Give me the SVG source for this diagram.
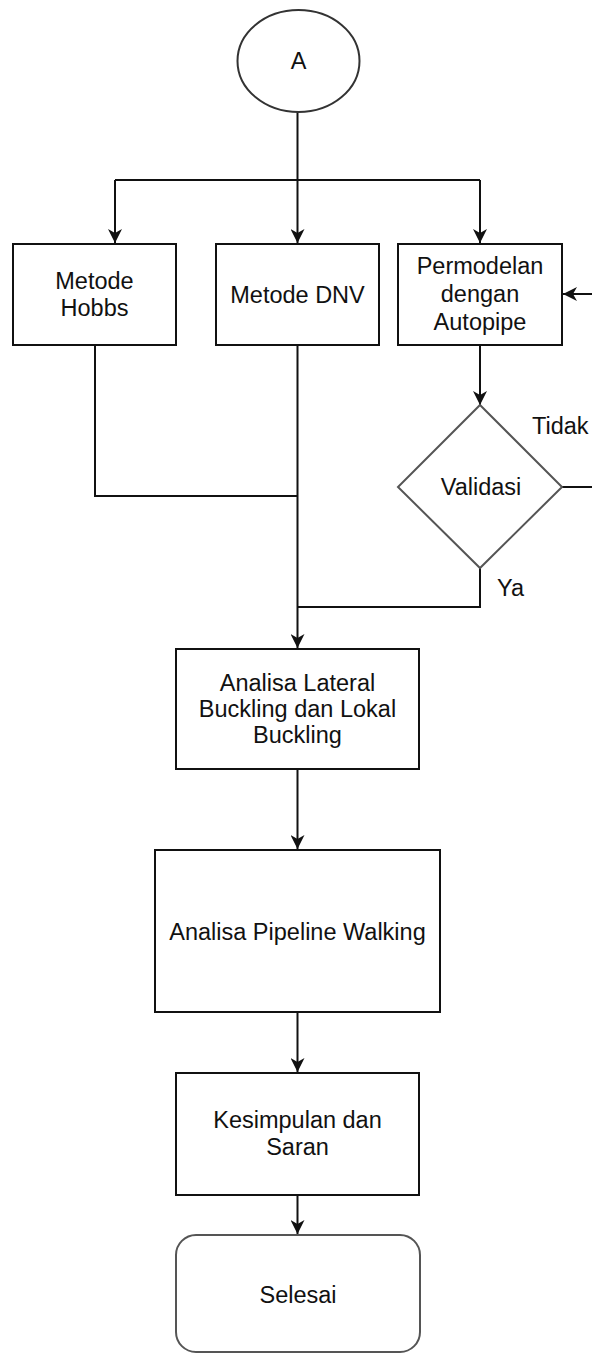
<svg xmlns="http://www.w3.org/2000/svg" width="592" height="1353" viewBox="0 0 592 1353">
<style>
.box{fill:#fff;stroke:#111;stroke-width:2}
.soft{fill:#fff;stroke:#555;stroke-width:2}
.ln{fill:none;stroke:#111;stroke-width:2}
.t{font-family:"Liberation Sans",Arial,sans-serif;font-size:23.5px;fill:#111;text-anchor:middle}
.tl{font-family:"Liberation Sans",Arial,sans-serif;font-size:23.5px;fill:#111;text-anchor:start}
</style>
<defs>
<marker id="arr" viewBox="0 0 14 14" refX="14" refY="7" markerWidth="14" markerHeight="14" markerUnits="userSpaceOnUse" orient="auto">
<path d="M0,0 L14,7 L0,14 L4,7 z" fill="#111"/>
</marker>
</defs>
<g id="connectors">
<path class="ln" d="M297.5,112 L297.5,243" marker-end="url(#arr)"/>
<path class="ln" d="M115,180 L480,180"/>
<path class="ln" d="M115,180 L115,243" marker-end="url(#arr)"/>
<path class="ln" d="M480,180 L480,243" marker-end="url(#arr)"/>
<path class="ln" d="M95,345 L95,496 L297.5,496"/>
<path class="ln" d="M297.5,345 L297.5,648" marker-end="url(#arr)"/>
<path class="ln" d="M480,345 L480,405" marker-end="url(#arr)"/>
<path class="ln" d="M562,487 L592,487"/>
<path class="ln" d="M592,294 L563,294" marker-end="url(#arr)"/>
<path class="ln" d="M480,568 L480,607 L297.5,607"/>
<path class="ln" d="M297.5,769 L297.5,849" marker-end="url(#arr)"/>
<path class="ln" d="M297.5,1012 L297.5,1072" marker-end="url(#arr)"/>
<path class="ln" d="M297.5,1195 L297.5,1234" marker-end="url(#arr)"/>
</g>
<g id="nodeA">
<ellipse cx="298.5" cy="61" rx="61" ry="51" fill="#fff" stroke="#333" stroke-width="2"/>
<text class="t" x="298.5" y="69">A</text>
</g>
<g id="hobbs">
<rect class="box" x="13" y="244" width="163" height="101"/>
<text class="t" x="94.5" y="289">Metode</text>
<text class="t" x="94.5" y="316">Hobbs</text>
</g>
<g id="dnv">
<rect class="box" x="216" y="244" width="163" height="101"/>
<text class="t" x="297.5" y="303">Metode DNV</text>
</g>
<g id="permodelan">
<rect class="box" x="398" y="244" width="164" height="101"/>
<text class="t" x="480" y="274">Permodelan</text>
<text class="t" x="480" y="302">dengan</text>
<text class="t" x="480" y="330">Autopipe</text>
</g>
<g id="validasi">
<path class="soft" d="M480,405 L562,487 L480,568 L398,487 z"/>
<text class="t" x="481" y="495">Validasi</text>
</g>
<g id="label-tidak">
<text class="tl" x="532" y="434">Tidak</text>
</g>
<g id="label-ya">
<text class="tl" x="497" y="596">Ya</text>
</g>
<g id="analisa-lateral">
<rect class="box" x="176" y="649" width="243" height="120"/>
<text class="t" x="297.5" y="691">Analisa Lateral</text>
<text class="t" x="297.5" y="717">Buckling dan Lokal</text>
<text class="t" x="297.5" y="743">Buckling</text>
</g>
<g id="analisa-walking">
<rect class="box" x="155" y="850" width="285" height="162"/>
<text class="t" x="297.5" y="940">Analisa Pipeline Walking</text>
</g>
<g id="kesimpulan">
<rect class="box" x="176" y="1073" width="243" height="122"/>
<text class="t" x="297.5" y="1128">Kesimpulan dan</text>
<text class="t" x="297.5" y="1155">Saran</text>
</g>
<g id="selesai">
<rect class="soft" x="176" y="1235" width="244" height="117" rx="20" ry="20"/>
<text class="t" x="298" y="1303">Selesai</text>
</g>
</svg>
